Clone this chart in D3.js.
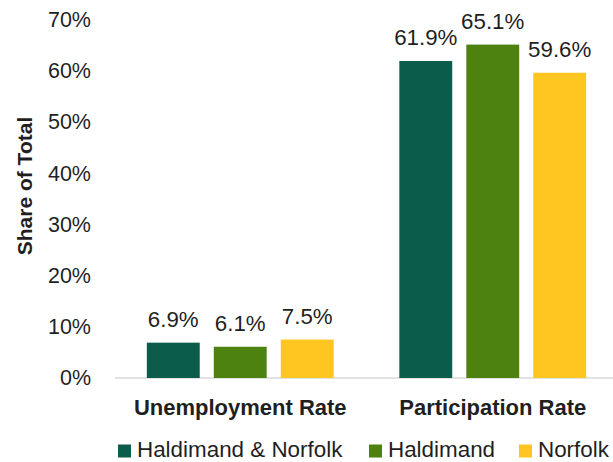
<!DOCTYPE html>
<html>
<head>
<meta charset="utf-8">
<script src="https://cdn.jsdelivr.net/npm/d3@7"></script>
<style>
  html, body { margin: 0; padding: 0; background: #fff; }
  svg { display: block; font-family: "Liberation Sans", Arial, sans-serif; }
</style>
</head>
<body>
<svg id="chart" width="613" height="462"></svg>
<script>
const categories = ["Unemployment Rate", "Participation Rate"];
const seriesNames = ["Haldimand & Norfolk", "Haldimand", "Norfolk"];
const seriesColors = ["#0b5c4a", "#4d8211", "#ffc520"];
const valuesHN = [6.9, 61.9];
const valuesH = [6.1, 65.1];
const valuesN = [7.5, 59.6];
const seriesValues = [valuesHN, valuesH, valuesN];
const yTicks = [0, 10, 20, 30, 40, 50, 60, 70];
const yTitle = "Share of Total";

const svg = d3.select("#chart");
const textColor = "#1f1f1f";

const y = d3.scaleLinear().domain([0, 70]).range([378, 19.5]);
const x0 = d3.scaleBand().domain(categories).range([114, 619]).paddingInner(0.26).paddingOuter(0.13);
const x1 = d3.scaleBand().domain(seriesNames).range([0, x0.bandwidth()]).paddingInner(0.21);

// y axis labels
const yAxis = d3.axisLeft(y).tickValues(yTicks).tickFormat(d => d + "%").tickSize(0).tickPadding(0);
const gy = svg.append("g").attr("transform", "translate(91,0)").call(yAxis);
gy.select(".domain").remove();
gy.selectAll("text").attr("font-size", 21.5).attr("fill", textColor)
  .attr("font-family", "'Liberation Sans', Arial, sans-serif");

// baseline
svg.append("line")
  .attr("x1", 115).attr("x2", 613)
  .attr("y1", y(0)).attr("y2", y(0))
  .attr("stroke", "#d9d9d9").attr("stroke-width", 1.5);

// bars
const groups = svg.append("g").selectAll("g")
  .data(categories).join("g")
  .attr("transform", d => `translate(${x0(d)},0)`);

groups.each(function(cat, ci) {
  const g = d3.select(this);
  seriesNames.forEach((s, si) => {
    const v = seriesValues[si][ci];
    g.append("rect")
      .attr("x", x1(s)).attr("width", x1.bandwidth())
      .attr("y", y(v)).attr("height", y(0) - y(v))
      .attr("fill", seriesColors[si]);
    g.append("text")
      .attr("x", x1(s) + x1.bandwidth() / 2)
      .attr("y", y(v) - 16)
      .attr("text-anchor", "middle")
      .attr("font-size", 22.3).attr("fill", textColor)
      .text(v.toFixed(1) + "%");
  });
});

// x axis category labels
const xAxis = d3.axisBottom(x0).tickSize(0).tickPadding(0);
const gx = svg.append("g").attr("transform", `translate(0,${y(0)})`).call(xAxis);
gx.select(".domain").remove();
gx.selectAll("text").attr("font-size", 22).attr("font-weight", "bold").attr("fill", textColor)
  .attr("font-family", "'Liberation Sans', Arial, sans-serif")
  .attr("dy", null).attr("y", 37);

// y title
svg.append("text")
  .attr("transform", "translate(32,186) rotate(-90)")
  .attr("text-anchor", "middle")
  .attr("font-size", 21).attr("font-weight", "bold").attr("fill", textColor)
  .text(yTitle);

// legend
const legendX = [118, 369, 519];
const legend = svg.append("g").selectAll("g").data(seriesNames).join("g")
  .attr("transform", (d, i) => `translate(${legendX[i]},0)`);
legend.append("rect").attr("x", 0).attr("y", 444.5).attr("width", 13).attr("height", 13)
  .attr("fill", (d, i) => seriesColors[i]);
legend.append("text").attr("x", 19).attr("y", 456.5)
  .attr("font-size", 22.4).attr("fill", textColor).text(d => d);
</script>
</body>
</html>
